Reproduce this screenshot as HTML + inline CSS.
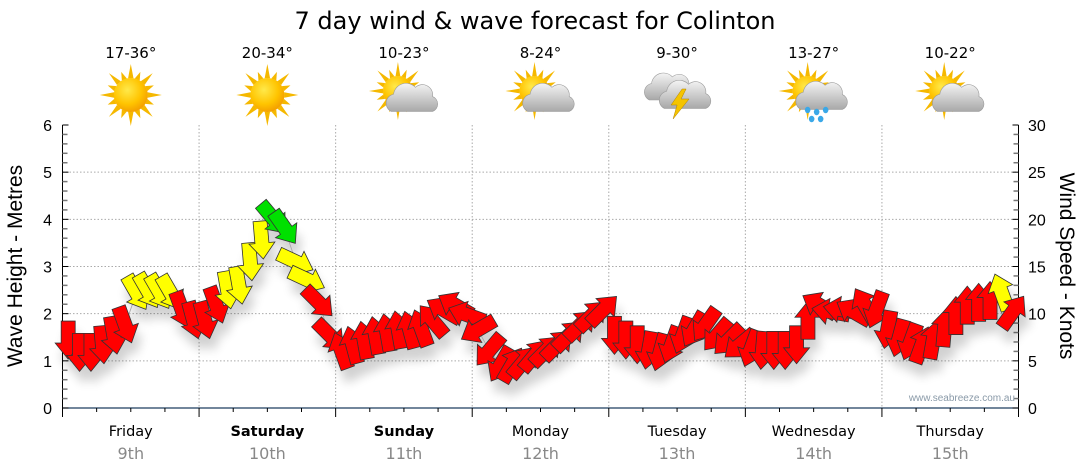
<!DOCTYPE html>
<html><head><meta charset="utf-8">
<style>
html,body{margin:0;padding:0;background:#fff;}
svg{display:block;font-family:"DejaVu Sans","Liberation Sans",sans-serif;}
</style></head>
<body>
<svg id="chart" width="1080" height="475" viewBox="0 0 1080 475">
<defs>
<radialGradient id="sunG" cx="0.4" cy="0.35" r="0.7"><stop offset="0" stop-color="#ffe94a"/><stop offset="0.6" stop-color="#ffc400"/><stop offset="1" stop-color="#f29a00"/></radialGradient>
<linearGradient id="cloudG" x1="0" y1="0" x2="0" y2="1"><stop offset="0" stop-color="#f4f4f4"/><stop offset="1" stop-color="#a8a8a8"/></linearGradient>
<filter id="shadow" x="-30%" y="-30%" width="160%" height="180%">
<feGaussianBlur in="SourceAlpha" stdDeviation="5"/><feOffset dx="4" dy="12" result="b"/>
<feComponentTransfer><feFuncA type="linear" slope="0.18"/></feComponentTransfer>
<feMerge><feMergeNode/><feMergeNode in="SourceGraphic"/></feMerge></filter>
</defs>
<text x="535" y="29" text-anchor="middle" font-size="24" fill="#000">7 day wind &amp; wave forecast for Colinton</text>
<g id="grid"></g>
<g id="axes"></g>
<g id="icons"></g>
<text x="0" y="0" transform="translate(22,266) rotate(-90)" text-anchor="middle" font-family="Liberation Sans, sans-serif" font-size="21">Wave Height - Metres</text>
<text x="0" y="0" transform="translate(1060,266) rotate(90)" text-anchor="middle" font-family="Liberation Sans, sans-serif" font-size="21">Wind Speed - Knots</text>
<text x="1015" y="401" text-anchor="end" font-family="Liberation Sans, sans-serif" font-size="10" fill="#8a9aa8">www.seabreeze.com.au</text>
<g id="series" filter="url(#shadow)"></g>
</svg>
<script>
const days = ["Friday","Saturday","Sunday","Monday","Tuesday","Wednesday","Thursday"];
const dates = ["9th","10th","11th","12th","13th","14th","15th"];
const boldDays = [false,true,true,false,false,false,false];
const temps = ["17-36°","20-34°","10-23°","8-24°","9-30°","13-27°","10-22°"];
const icons = ["sun","sun","partly","partly","storm","rain","partly"];
const waveTicks = [0,1,2,3,4,5,6];
const knotTicks = [0,5,10,15,20,25,30];
// 2-hourly wind speed (knots) and direction arrow points to (deg clockwise from up)
const windSpeed = [
 7.2,5.9,5.9,6.7,7.7,8.8,12.2,12.4,12.3,12.2,10.4,9.3,
 9.3,10.9,12.5,13.0,15.5,17.8,20.1,19.1,15.5,13.6,11.2,7.7,
 6.1,6.7,7.2,7.7,8.0,8.3,8.3,8.5,9.3,10.4,10.9,9.9,
 8.3,6.1,4.6,4.6,4.9,5.6,6.1,6.7,7.7,8.8,9.8,10.4,
 7.7,7.2,6.7,6.1,5.9,6.7,7.7,8.3,8.8,7.7,7.2,6.7,
 6.3,6.1,6.1,6.1,6.7,9.3,10.9,10.2,10.4,10.2,10.9,10.4,
 8.3,7.4,7.0,6.7,7.2,8.5,9.8,10.9,11.2,11.4,12.3,10.2
];
const windDir = [
 180,180,180,175,170,160,150,150,150,150,160,165,
 165,160,170,170,175,175,140,145,115,115,135,135,
 340,345,350,350,350,350,345,340,320,300,300,290,
 240,220,210,30,40,40,45,45,45,45,45,45,
 180,180,180,190,195,200,200,210,215,220,225,230,
 200,185,180,180,180,0,300,280,280,300,330,200,
 190,195,200,20,10,5,0,0,0,0,340,35
];
const NS="http://www.w3.org/2000/svg";
const X0=62.5, X1=1018.5, Y0=408, Y1=125;
const xDay = d => X0 + d*(X1-X0)/7;
const xHour = h => X0 + h*(X1-X0)/168;
const yWave = m => Y0 - m*(Y0-Y1)/6;
const yKnot = k => Y0 - k*(Y0-Y1)/30;
function mk(tag, attrs, parent){const e=document.createElementNS(NS,tag);for(const k in attrs)e.setAttribute(k,attrs[k]);parent.appendChild(e);return e;}
const grid=document.getElementById('grid'), axes=document.getElementById('axes'), icg=document.getElementById('icons'), ser=document.getElementById('series');
for(let m=1;m<=5;m++){const l=mk('line',{x1:X0,x2:X1,y1:yWave(m),y2:yWave(m),stroke:'#aaa','stroke-dasharray':'1.5,2','stroke-width':1},grid);

}
for(let d=1;d<7;d++){const l=mk('line',{x1:xDay(d),x2:xDay(d),y1:Y1,y2:Y0,stroke:'#aaa','stroke-dasharray':'1.5,2','stroke-width':1},grid);

}
mk('line',{x1:X0,x2:X0,y1:Y1,y2:Y0+8,stroke:'#000'},axes);
mk('line',{x1:X1,x2:X1,y1:Y1,y2:Y0,stroke:'#000'},axes);
const bx=mk('line',{x1:X0,x2:X1,y1:Y0,y2:Y0,stroke:'#1f3f5f','stroke-width':1.2},axes);


for(let i=0;i<=30;i++){const y=yWave(i/5);const maj=i%5==0;
mk('line',{x1:X0,x2:X0+(maj?6:5),y1:y,y2:y,stroke:maj?'#000':'#777','stroke-width':maj?1:1.5},axes);}
for(let i=0;i<=30;i++){const y=yKnot(i);const maj=i%5==0;
mk('line',{x1:X1-(maj?6:5),x2:X1,y1:y,y2:y,stroke:maj?'#000':'#777','stroke-width':maj?1:1.5},axes);}
waveTicks.forEach(v=>{const t=mk('text',{x:52,y:yWave(v)+6,'text-anchor':'end','font-size':16,'font-family':'Liberation Sans, sans-serif'},axes);t.textContent=v;

});
knotTicks.forEach(v=>{const t=mk('text',{x:1028,y:yKnot(v)+6,'font-size':16,'font-family':'Liberation Sans, sans-serif'},axes);t.textContent=v;

});
for(let q=0;q<=28;q++){const x=xDay(q/4);const maj=q%4==0;mk('line',{x1:x,x2:x,y1:Y0,y2:Y0+(maj?9:4),stroke:'#000'},axes);}
days.forEach((d,i)=>{const cx=xDay(i+0.5);
const t=mk('text',{x:cx,y:436,'text-anchor':'middle','font-size':14.5,'font-weight':boldDays[i]?'bold':'normal'},axes);t.textContent=d;


const t2=mk('text',{x:cx,y:459,'text-anchor':'middle','font-size':16,fill:'#888'},axes);t2.textContent=dates[i];


const t3=mk('text',{x:cx,y:58,'text-anchor':'middle','font-size':15},icg);t3.textContent=temps[i];


const g=mk('g',{transform:`translate(${cx},95)`},icg);


drawIcon(g,icons[i]);});
function sun(g,cx,cy,r){for(let a=0;a<360;a+=22.5){const L=(a%45==0)?r+14:r+8;const rad=a*Math.PI/180;
const w=0.16;mk('polygon',{points:`${cx+Math.sin(rad-w)*r},${cy-Math.cos(rad-w)*r} ${cx+Math.sin(rad)*L},${cy-Math.cos(rad)*L} ${cx+Math.sin(rad+w)*r},${cy-Math.cos(rad+w)*r}`,fill:'#f5b800'},g);}
mk('circle',{cx:cx,cy:cy,r:r,fill:'url(#sunG)'},g);}
function cloud(g,cx,cy,s){mk('path',{transform:`translate(${cx},${cy}) scale(${s})`,d:`M-18,10 a8,8 0 0 1 2,-15 a11,11 0 0 1 19,-6 a9,9 0 0 1 15,8 a7,7 0 0 1 0,13 z`,fill:'url(#cloudG)',stroke:'#999','stroke-width':0.5},g);}
function drawIcon(g,type){
if(type=='sun'){sun(g,0,0,17);}
else if(type=='partly'){sun(g,-6,-4,15);cloud(g,8,5,1.15);}
else if(type=='rain'){sun(g,-6,-4,15);cloud(g,8,3,1.15);[[-6,15],[3,17],[12,15],[-2,24],[7,24]].forEach(p=>mk('ellipse',{cx:p[0],cy:p[1],rx:2.8,ry:3.2,fill:'#3aa8e8'},g));}
else if(type=='storm'){cloud(g,-8,-6,1.1);cloud(g,8,2,1.15);mk('polygon',{points:'5,-6 -6,10 0,10 -4,24 12,4 4,4 9,-6',fill:'#f5c400',stroke:'#b08000','stroke-width':0.5},g);}
}
let pts=windSpeed.map((s,i)=>`${xHour(i*2+1)},${yKnot(s)}`).join(' ');
const pl=mk('polyline',{points:pts,fill:'none',stroke:'#aaa','stroke-width':1},ser);


windSpeed.forEach((s,i)=>{const x=xHour(i*2+1),y=yKnot(s);
const col=s>=18?'#00e000':(s>=12?'#ffff00':'#ff0000');
const a=mk('polygon',{points:'0,-19 13,-3 7,-3 7,19 -7,19 -7,-3 -13,-3',fill:col,stroke:'#333','stroke-width':0.8,transform:`translate(${x},${y}) rotate(${windDir[i]})`},ser);

});
</script>
</body></html>
